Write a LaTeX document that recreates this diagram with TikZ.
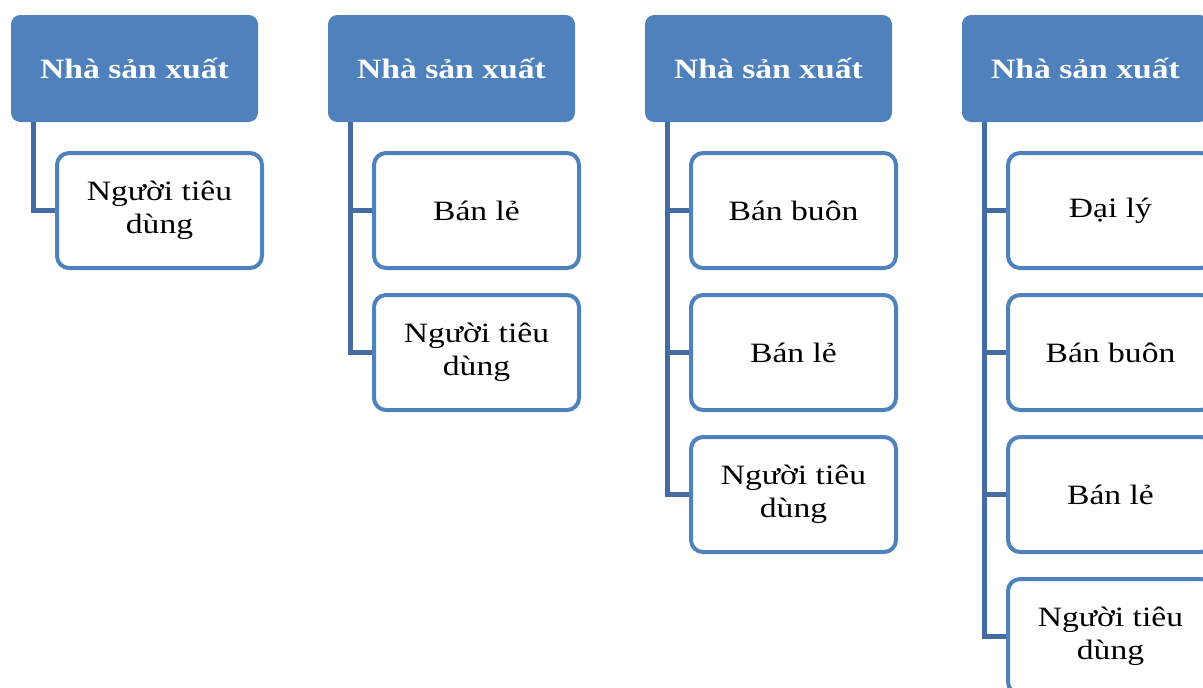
\documentclass[tikz,border=0pt]{standalone}
\usepackage{fontspec}
\setmainfont{Liberation Serif}[FakeStretch=1.2]
\usepackage{tikz}
\usetikzlibrary{calc}
\definecolor{hdrblue}{RGB}{79,129,189}
\definecolor{lineblue}{RGB}{68,108,163}

\tikzset{
	header/.style={fill=hdrblue, rounded corners=7pt, inner sep=0pt,
		minimum width=185.25pt, minimum height=80.25pt,
		text=white, font=\fontsize{21}{25}\selectfont\bfseries},
	stage/.style={draw=hdrblue, fill=white, line width=3pt, rounded corners=9pt,
		inner sep=0pt, minimum width=153.75pt, minimum height=86.25pt,
		align=center, font=\fontsize{21}{24.75}\selectfont},
	link/.style={draw=lineblue, line width=3.75pt}
}

% #1 = column, #2 = list of stages
\newcommand{\SupplyChain}[2]{
	\def\hx{11+317*#1}
	\node[header] (hdr#1) at ({\hx+123.5},68.5) {Nhà sản xuất};
	\coordinate (spine#1) at ($(hdr#1.south west)+(23,0)$);
	\foreach \lbl [count=\i] in {#2}{
		\node[stage] (box#1-\i) at ({\hx+148.5},{210.5+142*(\i-1)}) {\lbl};
		\draw[link] (spine#1) |- (box#1-\i.west);
	}
}

\begin{document}
\begin{tikzpicture}[x=0.75pt, y=-0.75pt]

	\useasboundingbox (0,0) rectangle (1203,687);
	\clip (0,0) rectangle (1203,687);

	\SupplyChain{0}{{Người tiêu\\dùng}}
	\SupplyChain{1}{{Bán lẻ}, {Người tiêu\\dùng}}
	\SupplyChain{2}{{Bán buôn}, {Bán lẻ}, {Người tiêu\\dùng}}
	\SupplyChain{3}{{Đại lý}, {Bán buôn}, {Bán lẻ}, {Người tiêu\\dùng}}

\end{tikzpicture}
\end{document}
